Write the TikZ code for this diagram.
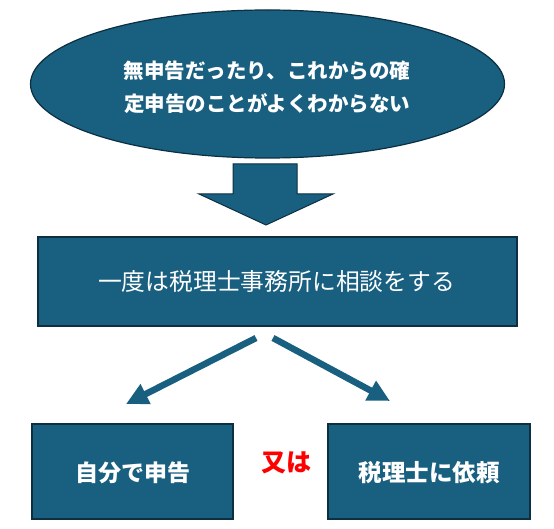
\documentclass[tikz,border=0pt]{standalone}
\usepackage{fontspec}
\newfontfamily\jp{Noto Sans CJK JP}
\usetikzlibrary{shapes.geometric,arrows.meta}
\definecolor{main}{HTML}{185F80}
\definecolor{edge}{HTML}{0C2F42}
\definecolor{redtxt}{HTML}{FF0000}
\tikzset{
  boxstyle/.style={draw=edge, line width=1.2pt, fill=main, inner sep=0pt, text=white},
  diagarrow/.style={draw=main, line width=6.5pt, -{Triangle[length=22pt,width=21pt]}},
}
\begin{document}
\begin{tikzpicture}[x=1pt,y=1pt]
\useasboundingbox (0,0) rectangle (554,528);
% top ellipse
\node[boxstyle, ellipse, minimum width=474pt, minimum height=148pt] (q) at (267.5,444) {};
\node[text=white, align=center, font=\jp\bfseries\fontsize{20.5}{33}\selectfont] (qt) at (267,440.5)
  {無申告だったり、これからの確\\定申告のことがよくわからない};
% block arrow
\draw[draw=edge, line width=1pt, fill=main]
  (233,364) -- (297,364) -- (297,334) -- (333,334) -- (266,303) -- (199,334) -- (233,334) -- cycle;
% middle rectangle
\node[boxstyle, minimum width=479pt, minimum height=89pt] (c) at (277.5,246.5) {};
\node[text=white, font=\jp\fontsize{23.8}{28}\selectfont] (ct) at (276.5,246.5) {一度は税理士事務所に相談をする};
% bottom boxes
\node[boxstyle, minimum width=201pt, minimum height=95pt] (l) at (132.5,56.5) {};
\node[text=white, font=\jp\bfseries\fontsize{23}{28}\selectfont] (lt) at (132.5,55) {自分で申告};
\node[boxstyle, minimum width=202pt, minimum height=95pt] (r) at (429,56.5) {};
\node[text=white, font=\jp\bfseries\fontsize{23.5}{28}\selectfont] (rt) at (429,55) {税理士に依頼};
\node[text=redtxt, font=\jp\bfseries\fontsize{25}{28}\selectfont] (or) at (286,65) {又は};
% diagonal arrows
\coordinate (ls) at (256,190);
\coordinate (le) at (126,124);
\coordinate (rs) at (273,190);
\coordinate (re) at (390,127);
\draw[diagarrow] (ls) -- (le);
\draw[diagarrow] (rs) -- (re);
\end{tikzpicture}
\end{document}
